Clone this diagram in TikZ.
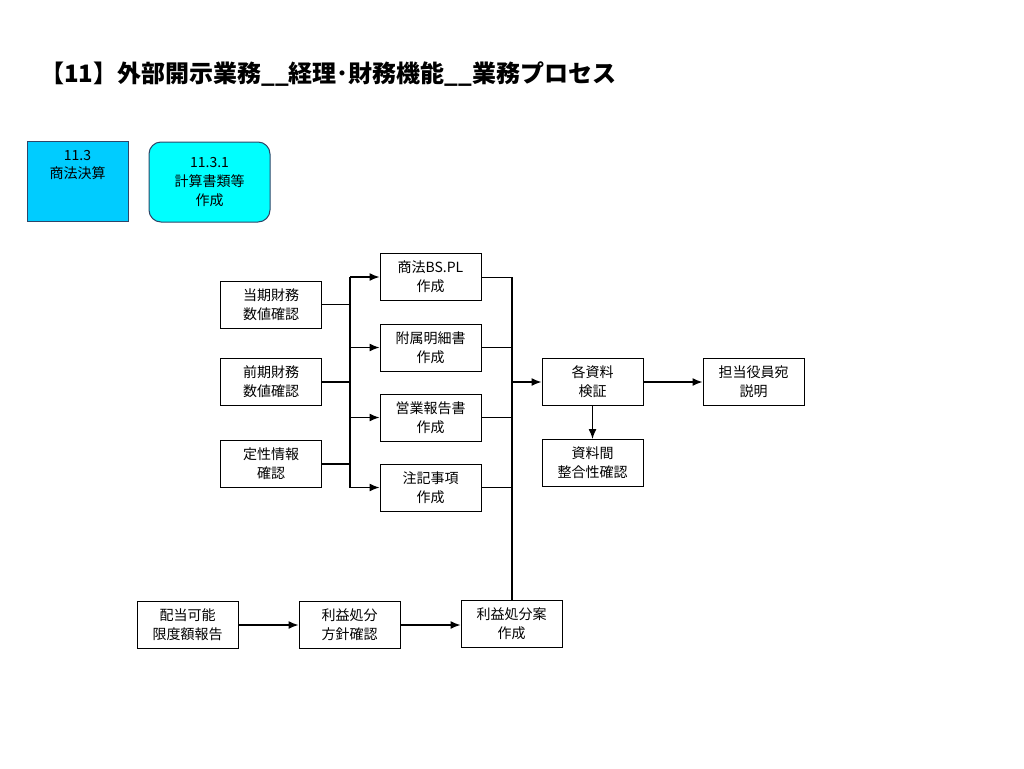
\documentclass[tikz,border=0pt]{standalone}
\usepackage{fontspec}
\setmainfont{Noto Sans CJK JP}
\usetikzlibrary{arrows.meta}
\definecolor{secblue}{RGB}{0,204,255}
\definecolor{subcyan}{RGB}{0,255,255}
\definecolor{secedge}{RGB}{45,70,105}
\tikzset{
    task/.style={draw, rectangle, line width=0.75pt, minimum width=75.75pt, minimum height=35.25pt, inner sep=0pt, align=center, font=\fontsize{10.5}{14.25}\selectfont},
    flow/.style={line width=1pt, -{Latex[length=7.5pt,width=6pt]}},
    link/.style={line width=1.2pt},
    thinlink/.style={line width=0.75pt}
}
\begin{document}
\begin{tikzpicture}[x=0.75pt, y=-0.75pt]
    \useasboundingbox (0,0) rectangle (1024,768);
    \node[anchor=west, inner sep=0pt, font=\fontsize{18}{20}\selectfont\bfseries] (title) at (40,74) {【11】外部開示業務\_\_経理･財務機能\_\_業務プロセス};
    % section boxes
    \node[draw=secedge, fill=secblue, rectangle, line width=0.75pt, minimum width=75.75pt, minimum height=60pt] (sec) at (77.5,181) {};
    \node[anchor=north, inner sep=0pt, align=center, font=\fontsize{10.5}{13.5}\selectfont] (sectext) at ([yshift=-7pt]sec.north) {11.3\\商法決算};
    \node[draw=secedge, fill=subcyan, rectangle, rounded corners=9pt, line width=0.75pt, minimum width=90.75pt, minimum height=60pt, align=center, font=\fontsize{10.5}{14.25}\selectfont] (sub) at (209.5,182) {11.3.1\\計算書類等\\作成};
    % inputs
    \node[task] (cur) at (271,304.5) {当期財務\\数値確認};
    \node[task] (prev) at (271,382) {前期財務\\数値確認};
    \node[task] (qual) at (271,464) {定性情報\\確認};
    % documents
    \node[task] (bspl) at (430.5,277) {商法BS.PL\\作成};
    \node[task] (annex) at (430.5,347.5) {附属明細書\\作成};
    \node[task] (biz) at (430.5,417.5) {営業報告書\\作成};
    \node[task] (notes) at (430.5,487.5) {注記事項\\作成};
    % review
    \node[task] (check) at (592.5,382) {各資料\\検証};
    \node[task] (exec) at (753.5,382) {担当役員宛\\説明};
    \node[task] (consist) at (592.5,463) {資料間\\整合性確認};
    % appropriation
    \node[task] (divlim) at (187.5,625) {配当可能\\限度額報告};
    \node[task] (policy) at (349.5,625) {利益処分\\方針確認};
    \node[task] (plan) at (511.5,624) {利益処分案\\作成};
    % buses
    \coordinate (lbus) at (350,277);
    \coordinate (rbus) at (512,277);
    \draw[link] (lbus) -- (lbus |- notes.west);
    \draw[link] (rbus) -- (rbus |- plan.north);
    \foreach \src in {cur, prev, qual}
        \draw[link] (\src.east) -- (\src.east -| lbus);
    \foreach \doc in {bspl, annex, biz, notes} {
        \draw[flow] (\doc.west -| lbus) -- (\doc.west);
        \draw[thinlink] (\doc.east) -- (\doc.east -| rbus);
    }
    \draw[flow] (check.west -| rbus) -- (check.west);
    \draw[flow] (check) -- (exec);
    \draw[flow] (check) -- (consist);
    \draw[flow] (divlim) -- (policy);
    \draw[flow] (policy.east) -- (policy.east -| plan.west);
\end{tikzpicture}
\end{document}
